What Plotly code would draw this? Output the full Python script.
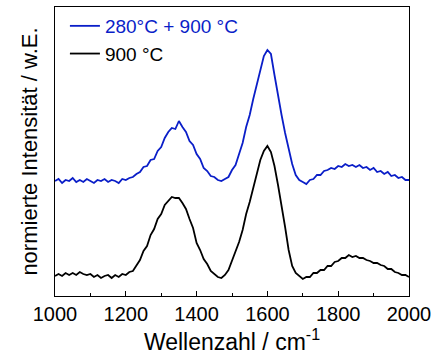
import plotly.graph_objects as go

wavenumber = list(range(1000, 2001, 10))

blue_280_900 = [
    115, 117, 113, 116, 115, 118, 114, 116, 114, 117,
    115, 113, 116, 115, 117, 114, 116, 115, 113, 117,
    116, 118, 119, 122, 124, 129, 130, 136, 137, 145,
    149, 158, 164, 168, 167, 175, 169, 164, 155, 151,
    142, 137, 128, 125, 120, 119, 116, 115, 117, 119,
    126, 131, 142, 153, 169, 181, 197, 211, 227, 240,
    246, 242, 221, 200, 181, 163, 146, 132, 121, 116,
    114, 112, 116, 117, 121, 121, 125, 126, 128, 127,
    130, 129, 132, 130, 131, 129, 131, 128, 129, 126,
    128, 124, 125, 122, 124, 120, 121, 118, 119, 116,
    116,
]

black_900 = [
    20, 22, 20, 23, 21, 23, 21, 24, 22, 21,
    22, 19, 21, 18, 20, 21, 18, 21, 19, 22,
    21, 24, 25, 31, 36, 45, 50, 61, 67, 77,
    82, 91, 95, 99, 98, 98, 93, 87, 77, 68,
    53, 46, 37, 32, 25, 22, 19, 18, 21, 26,
    35, 43, 54, 66, 82, 94, 109, 121, 136, 145,
    150, 144, 130, 111, 91, 69, 46, 30, 23, 20,
    17, 19, 19, 23, 23, 26, 26, 30, 30, 34,
    35, 38, 38, 41, 39, 40, 38, 38, 36, 35,
    33, 33, 31, 30, 27, 27, 24, 23, 21, 21,
    19,
]

x_ticks = [1000, 1200, 1400, 1600, 1800, 2000]

BLUE = "#0a1ec8"
FONT = "Liberation Sans, Arial, sans-serif"

fig = go.Figure()
fig.add_trace(go.Scatter(
    x=wavenumber, y=blue_280_900, mode="lines",
    line=dict(color=BLUE, width=1.8),
    name=f"<span style='color:{BLUE}'>280°C + 900 °C</span>",
))
fig.add_trace(go.Scatter(
    x=wavenumber, y=black_900, mode="lines",
    line=dict(color="black", width=1.8),
    name="900 °C",
))

fig.update_layout(
    width=432, height=363,
    margin=dict(l=55, r=23, t=7, b=67, autoexpand=False),
    paper_bgcolor="white", plot_bgcolor="white",
    font=dict(family=FONT, size=20, color="black"),
    showlegend=True,
    legend=dict(x=0.028, y=1.0, xanchor="left", yanchor="top",
                bgcolor="rgba(0,0,0,0)", font=dict(size=19),
                itemwidth=30, tracegroupgap=0),
    xaxis=dict(
        range=[1000, 2000], tickvals=x_ticks,
        ticks="inside", ticklen=5, tickwidth=1, tickcolor="black",
        minor=dict(ticks="inside", ticklen=3, dtick=100, tickcolor="black"),
        showline=True, linecolor="black", linewidth=1, mirror=True,
        showgrid=False, zeroline=False, automargin=False,
        ticklabeloverflow="allow",
        title=dict(text="Wellenzahl / cm<sup>-1</sup>", font=dict(size=23), standoff=8),
        tickfont=dict(size=20),
    ),
    yaxis=dict(
        range=[0, 289], showticklabels=False, ticks="",
        showline=True, linecolor="black", linewidth=1, mirror=True,
        showgrid=False, zeroline=False, automargin=False,
        title=dict(text="normierte Intensität / w.E.", font=dict(size=22), standoff=10),
    ),
)

fig.write_html("out.html", config={"displayModeBar": False},
               post_script="document.body.style.margin='0';")
